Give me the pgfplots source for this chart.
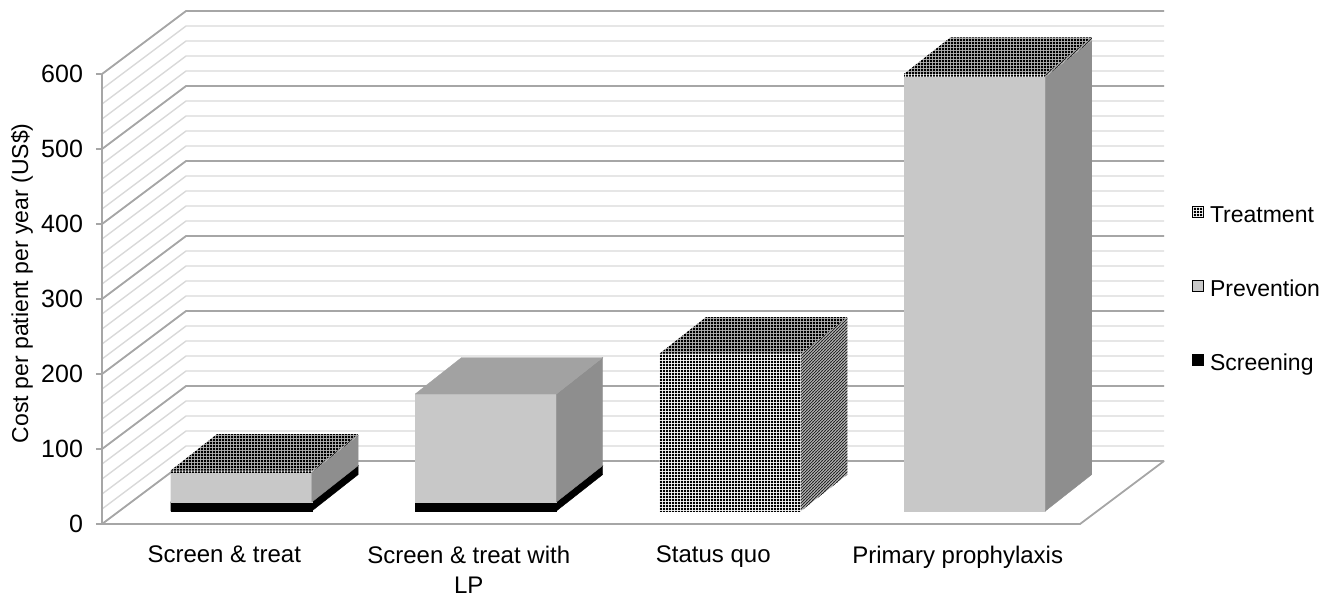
\documentclass[border=0pt]{standalone}
\usepackage{fontspec}
\setmainfont{Liberation Sans}
\usepackage{pgfplots}
\usepackage{pgfplotstable}
\pgfplotsset{compat=1.18}
\usetikzlibrary{patterns}

\pgfdeclarepatternformonly{finedots}{\pgfqpoint{0pt}{0pt}}{\pgfqpoint{1.5pt}{1.5pt}}{\pgfqpoint{1.5pt}{1.5pt}}{%
  \pgfpathrectangle{\pgfqpoint{0.15pt}{0.15pt}}{\pgfqpoint{1.2pt}{1.2pt}}\pgfusepath{fill}}
\pgfdeclarepatternformonly{finediag}{\pgfqpoint{-0.5pt}{-0.5pt}}{\pgfqpoint{2pt}{2pt}}{\pgfqpoint{1.5pt}{1.5pt}}{%
  \pgfsetlinewidth{0.5pt}\pgfpathmoveto{\pgfqpoint{-0.5pt}{-0.5pt}}\pgfpathlineto{\pgfqpoint{2pt}{2pt}}\pgfusepath{stroke}}

\definecolor{cPrevF}{HTML}{C8C8C8}
\definecolor{cPrevS}{HTML}{8E8E8E}
\definecolor{cPrevT}{HTML}{A2A2A2}
\definecolor{gridmaj}{HTML}{A6A6A6}
\definecolor{gridmin}{HTML}{D9D9D9}

% data: cost per patient per year (US$)
\pgfplotstableread{
pos scr prev treat
0.5 12 40 2
1.5 12 144 0
2.5 0 0 210
3.5 0 579 4
}\costs

% geometry of the 3-D look (axis units)
\def\FX{0.0695}\def\FY{17.3}\def\BW{0.577}\def\BDX{0.190}\def\BDY{48.7}

\pgfplotsset{
 face/.style={forget plot, mark=none},
 scrF/.style={face, fill=black, draw=black, line width=0.2pt},
 scrS/.style={face, fill=black, draw=black, line width=0.2pt},
 scrT/.style={face, fill=black, draw=black, line width=0.2pt},
 prevF/.style={face, fill=cPrevF, draw=cPrevF, line width=0.2pt},
 prevS/.style={face, fill=cPrevS, draw=cPrevS, line width=0.2pt},
 prevT/.style={face, fill=cPrevT, draw=cPrevT, line width=0.2pt},
 treatF/.style={face, draw=none, preaction={fill=white}, pattern=finedots, pattern color=black},
 treatS/.style={face, draw=none, preaction={fill=gray!35}, pattern=finediag, pattern color=black!85},
 treatT/.style={face, draw=none, preaction={fill=gray!55}, pattern=finedots, pattern color=black},
}

\newcommand\cuboid[6]{%
 \pgfmathsetmacro\xl{#1+\FX-\BW/2}%
 \pgfmathsetmacro\xr{#1+\FX+\BW/2}%
 \pgfmathsetmacro\xlb{\xl+\BDX}%
 \pgfmathsetmacro\xrb{\xr+\BDX}%
 \pgfmathsetmacro\ya{#2+\FY}%
 \pgfmathsetmacro\yb{#3+\FY}%
 \pgfmathsetmacro\yab{\ya+\BDY}%
 \pgfmathsetmacro\ybb{\yb+\BDY}%
 \edef\doit{%
  \noexpand\addplot[#4] coordinates {(\xl,\ya) (\xr,\ya) (\xr,\yb) (\xl,\yb) (\xl,\ya)};
  \noexpand\addplot[#5] coordinates {(\xr,\ya) (\xrb,\yab) (\xrb,\ybb) (\xr,\yb) (\xr,\ya)};
  \noexpand\addplot[#6] coordinates {(\xl,\yb) (\xr,\yb) (\xrb,\ybb) (\xlb,\ybb) (\xl,\yb)};
 }\doit}

\begin{document}
\begin{tikzpicture}
\begin{axis}[
 x=122.25pt, y=0.375pt,
 xmin=0, xmax=4.3436, ymin=0, ymax=684,
 clip=false, axis line style={draw=none},
 xtick={0.5,1.5,2.5,3.5},
 xticklabels={Screen \& treat,{Screen \& treat with\\LP},Status quo,Primary prophylaxis},
 x tick label style={font=\fontsize{12}{15}\selectfont, align=center, yshift=-4.5pt},
 ytick={0,100,...,600},
 y tick label style={font=\fontsize{12.5}{14}\selectfont, xshift=-3pt},
 /pgf/number format/assume math mode=true,
 tick pos=left,
 xtick style={draw=none},
 ytick style={gridmaj, line width=0.8pt},
 tick align=outside,
 major tick length=3pt,
 legend style={at={(1.0263,0.456)}, anchor=west, draw=none, fill=none,
   font=\fontsize{11.5}{13}\selectfont, row sep=25pt, inner sep=0pt,
   nodes={inner sep=1pt, text height=8pt, text depth=2pt}},
 legend cell align=left,
 legend image code/.code={\fill[#1] (0pt,-0.5pt) rectangle (5.5pt,5pt);},
]
\addlegendimage{preaction={fill=white}, pattern=finedots, pattern color=black}
\addlegendentry{\,Treatment}
\addlegendimage{fill=cPrevF}
\addlegendentry{\,Prevention}
\addlegendimage{fill=black}
\addlegendentry{\,Screening}

% walls: left side and back grid
\pgfplotsinvokeforeach{0,20,...,600}{
  \draw[gridmin, line width=0.7pt] (axis cs:0,#1) -- ++(42pt,31.5pt) -- ++(489pt,0pt);
}
\pgfplotsinvokeforeach{0,100,...,600}{
  \draw[gridmaj, line width=0.9pt] (axis cs:0,#1) -- ++(42pt,31.5pt) -- ++(489pt,0pt);
}
\draw[gridmaj, line width=0.9pt] (axis cs:0,600) -- (axis cs:0,0) -- (axis cs:4,0) -- ++(42pt,31.5pt);

% bars
\pgfplotstablegetrowsof{\costs}
\pgfmathtruncatemacro\nrows{\pgfplotsretval-1}
\pgfplotsforeachungrouped \r in {0,...,\nrows}{%
  \pgfplotstablegetelem{\r}{pos}\of\costs \let\cx\pgfplotsretval
  \pgfplotstablegetelem{\r}{scr}\of\costs \let\vs\pgfplotsretval
  \pgfplotstablegetelem{\r}{prev}\of\costs \let\vp\pgfplotsretval
  \pgfplotstablegetelem{\r}{treat}\of\costs \let\vt\pgfplotsretval
  \pgfmathsetmacro\za{\vs}%
  \pgfmathsetmacro\zb{\vs+\vp}%
  \pgfmathsetmacro\zc{\vs+\vp+\vt}%
  \ifdim\vs pt>0pt \cuboid{\cx}{0}{\za}{scrF}{scrS}{scrT}\fi
  \ifdim\vp pt>0pt \cuboid{\cx}{\za}{\zb}{prevF}{prevS}{prevT}\fi
  \ifdim\vt pt>0pt \cuboid{\cx}{\zb}{\zc}{treatF}{treatS}{treatT}\fi
}

\node[rotate=90, font=\fontsize{11.5}{13}\selectfont] at ([xshift=-40pt]axis cs:0,321) {Cost per patient per year (US\$)};
\coordinate (O) at (axis cs:0,0);
\end{axis}
\pgfresetboundingbox
\path (O) ++(-51pt,-36pt) rectangle ++(663pt,298pt);
\end{tikzpicture}
\end{document}
